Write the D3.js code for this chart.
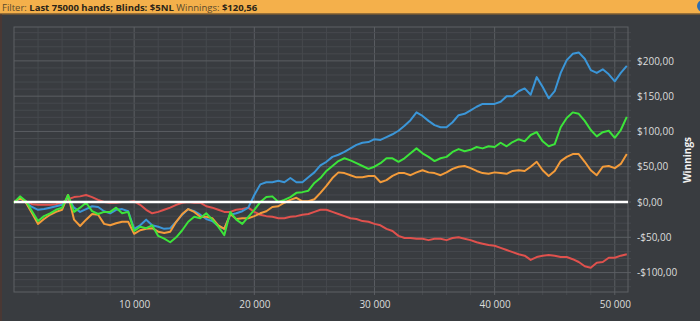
<!DOCTYPE html>
<html>
<head>
<meta charset="utf-8">
<script src="https://cdn.jsdelivr.net/npm/d3@7"></script>
<style>
  body { margin: 0; background: #393c40; overflow: hidden; }
  text { font-family: "Open Sans", "Noto Sans", sans-serif; }
</style>
</head>
<body>
<svg id="chart" width="700" height="321"></svg>
<script>
var handStep = 500;

var blue = [-1, 6, -1, -7, -11, -10, -8, -6, -4, 6,
  -8, -14, -10, -6, -7, -13, -16, -11, -10, -13,
  -38, -33, -25, -33, -35, -38, -37, -28, -18, -10,
  -13, -18, -24, -27, -34, -38, -18, -16, -13, -8,
  10, 25, 28, 28, 30, 28, 34, 28, 28, 35,
  42, 52, 57, 64, 67, 71, 76, 81, 84, 85,
  89, 88, 92, 96, 101, 108, 116, 127, 122, 115,
  109, 106, 106, 113, 123, 125, 130, 135, 139, 139,
  139, 142, 150, 150, 157, 161, 152, 177, 163, 147,
  157, 183, 201, 210, 212, 203, 187, 183, 188, 181,
  171, 183, 193];

var green = [-1, 8, 1, -13, -27, -20, -16, -11, -8, 10,
  -14, -8, -1, -13, -17, -14, -14, -8, -16, -14,
  -41, -35, -37, -33, -48, -52, -57, -50, -40, -28,
  -21, -23, -16, -25, -35, -47, -14, -25, -31, -21,
  -11, 0, 7, 8, 0, 3, 7, 13, 14, 16,
  27, 34, 44, 51, 58, 62, 59, 55, 51, 47,
  50, 55, 62, 62, 57, 62, 69, 76, 69, 64,
  58, 62, 64, 71, 75, 72, 74, 78, 76, 79,
  78, 84, 79, 85, 89, 86, 95, 99, 86, 79,
  82, 106, 119, 127, 125, 115, 102, 93, 99, 101,
  91, 102, 120.56];

var orange = [-1, 6, -1, -16, -31, -24, -18, -14, -11, 10,
  -25, -34, -25, -17, -18, -31, -33, -30, -28, -28,
  -45, -40, -38, -37, -42, -44, -42, -28, -17, -10,
  -14, -21, -21, -23, -33, -38, -17, -24, -23, -23,
  -20, -16, -13, -7, -6, -1, 3, 6, 1, 1,
  4, 13, 23, 34, 42, 41, 38, 35, 35, 37,
  37, 28, 31, 37, 41, 41, 38, 42, 45, 42,
  41, 38, 42, 47, 50, 51, 48, 44, 41, 40,
  42, 41, 40, 44, 45, 44, 50, 57, 45, 37,
  44, 58, 64, 68, 68, 57, 45, 38, 50, 51,
  48, 54, 68];

var red = [0, 6, 1, -3, -4, -4, -4, -3, -1, 4,
  7, 8, 10, 7, 3, 0, -1, -1, 0, 0,
  1, -4, -11, -16, -14, -11, -8, -4, -1, 0,
  -1, -1, -6, -8, -11, -14, -14, -11, -10, -8,
  -14, -18, -20, -21, -23, -23, -21, -20, -18, -17,
  -14, -11, -11, -14, -17, -20, -23, -24, -27, -28,
  -31, -33, -38, -41, -48, -51, -51, -52, -52, -54,
  -52, -52, -54, -51, -50, -52, -54, -57, -59, -61,
  -62, -65, -68, -71, -74, -76, -82, -78, -76, -75,
  -76, -78, -78, -81, -85, -91, -93, -86, -85, -79,
  -79, -76, -74];

var xTicks = [10000, 20000, 30000, 40000, 50000];
var yTicks = [-100, -50, 0, 50, 100, 150, 200];

var svg = d3.select("#chart");
var plotL = 14, plotR = 628, plotT = 27, plotB = 292;

var x = d3.scaleLinear().domain([0, 51100]).range([plotL, plotR]);
var y = d3.scaleLinear().domain([-127.5, 248]).range([plotB, plotT]);

var loc = d3.formatLocale({decimal: ",", thousands: " ", grouping: [3], currency: ["$", ""], minus: "-"});

// header bar
svg.append("rect").attr("x", 0).attr("y", 0).attr("width", 700).attr("height", 13.5).attr("fill", "#f4b04b");
svg.append("rect").attr("x", 0).attr("y", 13.5).attr("width", 700).attr("height", 1).attr("fill", "#9a6a2c");
svg.append("circle").attr("cx", 703).attr("cy", 6).attr("r", 6).attr("fill", "#2c6db0");
svg.append("rect").attr("x", 0).attr("y", 14.5).attr("width", 2).attr("height", 307).attr("fill", "#4a3834");

var head = svg.append("text").attr("x", 2).attr("y", 10.5)
  .attr("font-size", 9.5).attr("fill", "#2a2418");
head.append("tspan").attr("fill", "#5a4a2c").text("Filter: ");
head.append("tspan").attr("font-weight", "bold").text("Last 75000 hands; Blinds: $5NL ");
head.append("tspan").attr("fill", "#5a4a2c").text("Winnings: ");
head.append("tspan").attr("font-weight", "bold").text("$120,56");

// grid
var g = svg.append("g");
g.selectAll(".vminor").data(d3.range(2000, 51100, 2000)).join("line")
  .attr("x1", d => x(d)).attr("x2", d => x(d)).attr("y1", plotT).attr("y2", plotB + 3)
  .attr("stroke", d => d % 10000 === 0 ? "#5b5e62" : "#46494d").attr("stroke-width", 1);
g.selectAll(".hminor").data(d3.range(-120, 248, 10)).join("line")
  .attr("x1", plotL).attr("x2", plotR + 3).attr("y1", d => y(d)).attr("y2", d => y(d))
  .attr("stroke", d => d % 50 === 0 ? "#5b5e62" : "#46494d").attr("stroke-width", 1);
svg.append("rect").attr("x", plotL).attr("y", plotT).attr("width", plotR - plotL).attr("height", plotB - plotT)
  .attr("fill", "none").attr("stroke", "#5e6165");

// axes
var xAxis = svg.append("g").attr("transform", "translate(0," + plotB + ")")
  .call(d3.axisBottom(x).tickValues(xTicks).tickSize(0).tickPadding(9).tickFormat(loc.format(",d")));
var yAxis = svg.append("g").attr("transform", "translate(" + plotR + ",0)")
  .call(d3.axisRight(y).tickValues(yTicks).tickSize(0).tickPadding(9).tickFormat(loc.format("$,.2f")));
[xAxis, yAxis].forEach(function (a) {
  a.select(".domain").remove();
  a.selectAll("text").attr("fill", "#dcdcdc").attr("font-size", 10)
    .attr("font-family", "'Open Sans', 'Noto Sans', sans-serif");
});

svg.append("text").attr("transform", "translate(691,160) rotate(-90)")
  .attr("text-anchor", "middle").attr("font-size", 10).attr("font-weight", "bold")
  .attr("fill", "#f2f2f2").text("Winnings");

// lines
var line = d3.line().x((d, i) => x(i * handStep)).y(d => y(d));
var series = [[red, "#e0514d"], [blue, "#3b96d8"], [orange, "#f39b3a"], [green, "#3ce43a"]];
series.forEach(function (s) {
  svg.append("path").datum(s[0]).attr("fill", "none").attr("stroke", s[1])
    .attr("stroke-width", 2).attr("stroke-linejoin", "round").attr("d", line);
});

// zero line
svg.append("line").attr("x1", plotL).attr("x2", plotR).attr("y1", y(0)).attr("y2", y(0))
  .attr("stroke", "#ffffff").attr("stroke-width", 2.5);
</script>
</body>
</html>
